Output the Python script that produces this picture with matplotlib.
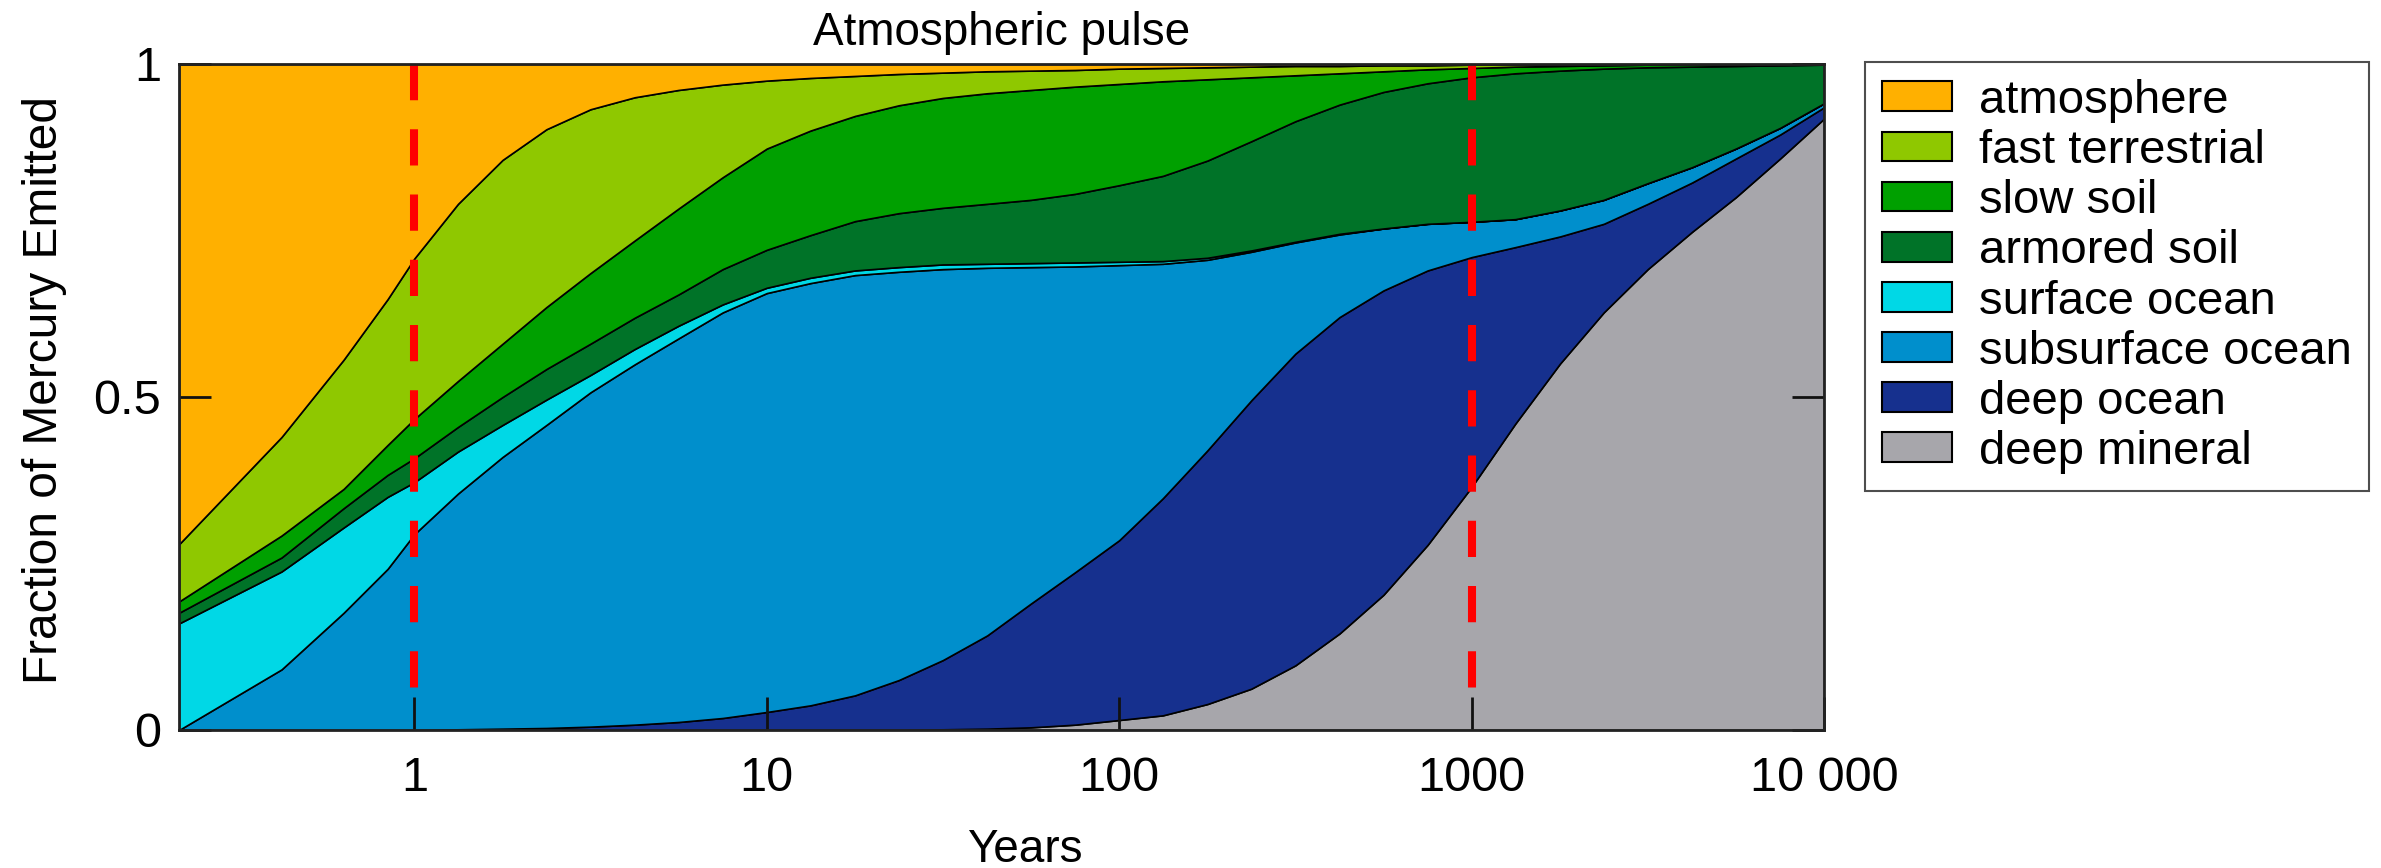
import matplotlib
matplotlib.use("Agg")
import matplotlib.pyplot as plt
from matplotlib.patches import Patch

plt.rcParams['font.family'] = ['Liberation Sans', 'DejaVu Sans']

# Time (years), log axis
years = [0.215, 0.42, 0.63, 0.84, 1, 1.33, 1.78, 2.37, 3.16, 4.22, 5.62, 7.5,
         10, 13.3, 17.8, 23.7, 31.6, 42.2, 56.2, 75, 100, 133, 178, 237, 316, 422,
         562, 750, 1000, 1330, 1780, 2370, 3160, 4220, 5620, 7500, 10000]

# Fraction of emitted mercury in each reservoir (stacked from the bottom)
deep_mineral = [0, 0, 0, 0, 0, 0, 0, 0, 0, 0, 0, 0,
                0, 0, 0, 0, 0.001, 0.002, 0.004, 0.008, 0.015, 0.022, 0.039, 0.062, 0.097, 0.145,
                0.203, 0.278, 0.365, 0.460, 0.550, 0.627, 0.692, 0.748, 0.800, 0.858, 0.918]
deep_ocean = [0, 0, 0, 0, 0, 0.001, 0.002, 0.003, 0.005, 0.008, 0.012, 0.018,
              0.027, 0.037, 0.052, 0.075, 0.104, 0.140, 0.186, 0.229, 0.270, 0.326, 0.381, 0.433, 0.468, 0.475,
              0.457, 0.412, 0.345, 0.265, 0.191, 0.133, 0.098, 0.074, 0.058, 0.036, 0.017]
subsurface_ocean = [0, 0.091, 0.176, 0.242, 0.294, 0.354, 0.408, 0.455, 0.502, 0.541, 0.576, 0.609,
                    0.629, 0.634, 0.631, 0.613, 0.587, 0.552, 0.505, 0.459, 0.413, 0.352, 0.286, 0.223, 0.167, 0.124,
                    0.093, 0.070, 0.053, 0.042, 0.039, 0.036, 0.031, 0.023, 0.015, 0.010, 0.006]
surface_ocean = [0.160, 0.147, 0.128, 0.108, 0.078, 0.063, 0.048, 0.038, 0.026, 0.023, 0.019, 0.012,
                 0.008, 0.008, 0.007, 0.007, 0.007, 0.006, 0.006, 0.006, 0.005, 0.004, 0.003, 0.002, 0.001, 0.001,
                 0, 0, 0, 0, 0, 0, 0, 0, 0, 0, 0]
armored_soil = [0.016, 0.021, 0.029, 0.033, 0.036, 0.037, 0.042, 0.046, 0.047, 0.047, 0.047, 0.053,
                0.057, 0.064, 0.074, 0.081, 0.085, 0.090, 0.095, 0.103, 0.115, 0.128, 0.146, 0.164, 0.181, 0.194,
                0.205, 0.211, 0.217, 0.219, 0.210, 0.197, 0.174, 0.151, 0.124, 0.094, 0.058]
slow_soil = [0.017, 0.033, 0.029, 0.045, 0.059, 0.069, 0.080, 0.093, 0.106, 0.116, 0.129, 0.138,
             0.152, 0.157, 0.158, 0.162, 0.165, 0.166, 0.165, 0.161, 0.152, 0.142, 0.122, 0.096, 0.069, 0.047,
             0.031, 0.021, 0.014, 0.010, 0.007, 0.005, 0.004, 0.004, 0.003, 0.002, 0.001]
fast_terrestrial = [0.086, 0.148, 0.194, 0.219, 0.241, 0.266, 0.276, 0.267, 0.246, 0.215, 0.178, 0.139,
                    0.102, 0.079, 0.060, 0.047, 0.038, 0.033, 0.029, 0.025, 0.023, 0.020, 0.018, 0.016, 0.014, 0.011,
                    0.009, 0.006, 0.005, 0.003, 0.002, 0.002, 0.001, 0, 0, 0, 0]
atmosphere = [0.721, 0.560, 0.444, 0.353, 0.292, 0.210, 0.144, 0.098, 0.068, 0.050, 0.039, 0.031,
              0.025, 0.021, 0.018, 0.015, 0.013, 0.011, 0.010, 0.009, 0.007, 0.006, 0.005, 0.004, 0.003, 0.003,
              0.002, 0.002, 0.001, 0.001, 0.001, 0, 0, 0, 0, 0, 0]

labels = ['deep mineral', 'deep ocean', 'subsurface ocean', 'surface ocean',
          'armored soil', 'slow soil', 'fast terrestrial', 'atmosphere']
colors = ['#A7A6AB', '#16308E', '#008FCC', '#00D8E6',
          '#007328', '#00A000', '#8FC800', '#FFB000']
marker_years = [1, 1000]
xtick_vals = [1, 10, 100, 1000, 10000]
xtick_text = ['1', '10', '100', '1000', '10 000']
ytick_vals = [0, 0.5, 1]
ytick_text = ['0', '0.5', '1']

fig = plt.figure(figsize=(23.81, 8.68), dpi=100)
ax = fig.add_axes([0.0752, 0.1590, 0.6909, 0.7673])

series = [deep_mineral, deep_ocean, subsurface_ocean, surface_ocean,
          armored_soil, slow_soil, fast_terrestrial, atmosphere]
ax.stackplot(years, *series, colors=colors, edgecolor='black', linewidth=1.2)

for xm in marker_years:
    ax.plot([xm, xm], [1.0, 0.063], color='#FF0000', lw=5.8,
            dashes=(4.5, 3.6), dash_capstyle='butt', zorder=5)

ax.set_xscale('log')
ax.set_xlim(0.215, 10000)
ax.set_ylim(0, 1)
ax.set_xticks(xtick_vals)
ax.set_xticklabels(xtick_text)
ax.minorticks_off()
ax.set_yticks(ytick_vals)
ax.set_yticklabels(ytick_text)
ax.tick_params(axis='x', direction='in', length=24, width=2.0, labelsize=35, pad=19,
               color='#111111')
ax.tick_params(axis='y', direction='in', length=23, width=2.0, labelsize=35, pad=13,
               right=True, color='#111111')
for sp in ax.spines.values():
    sp.set_linewidth(2.0)
    sp.set_color('#222222')
    sp.set_zorder(6)

ax.set_xlabel('Years', fontsize=33)
ax.xaxis.set_label_coords(0.514, -0.147)
ax.set_ylabel('Fraction of Mercury Emitted', fontsize=34.5)
ax.yaxis.set_label_coords(-0.068, 0.51)
ax.set_title('Atmospheric pulse', fontsize=33, pad=14)

handles = [Patch(facecolor=c, edgecolor='black', linewidth=1.5) for c in colors]
leg = fig.legend(handles[::-1], labels[::-1], loc='upper left',
                 bbox_to_anchor=(0.7833, 0.9286), bbox_transform=fig.transFigure,
                 fontsize=34, frameon=True, fancybox=False, edgecolor='#222222',
                 handlelength=1.48, handleheight=0.59, handletextpad=0.58,
                 labelspacing=0.13, borderpad=0.36, borderaxespad=0)
leg.get_frame().set_linewidth(1.5)

fig.savefig('out.png', dpi=100)
